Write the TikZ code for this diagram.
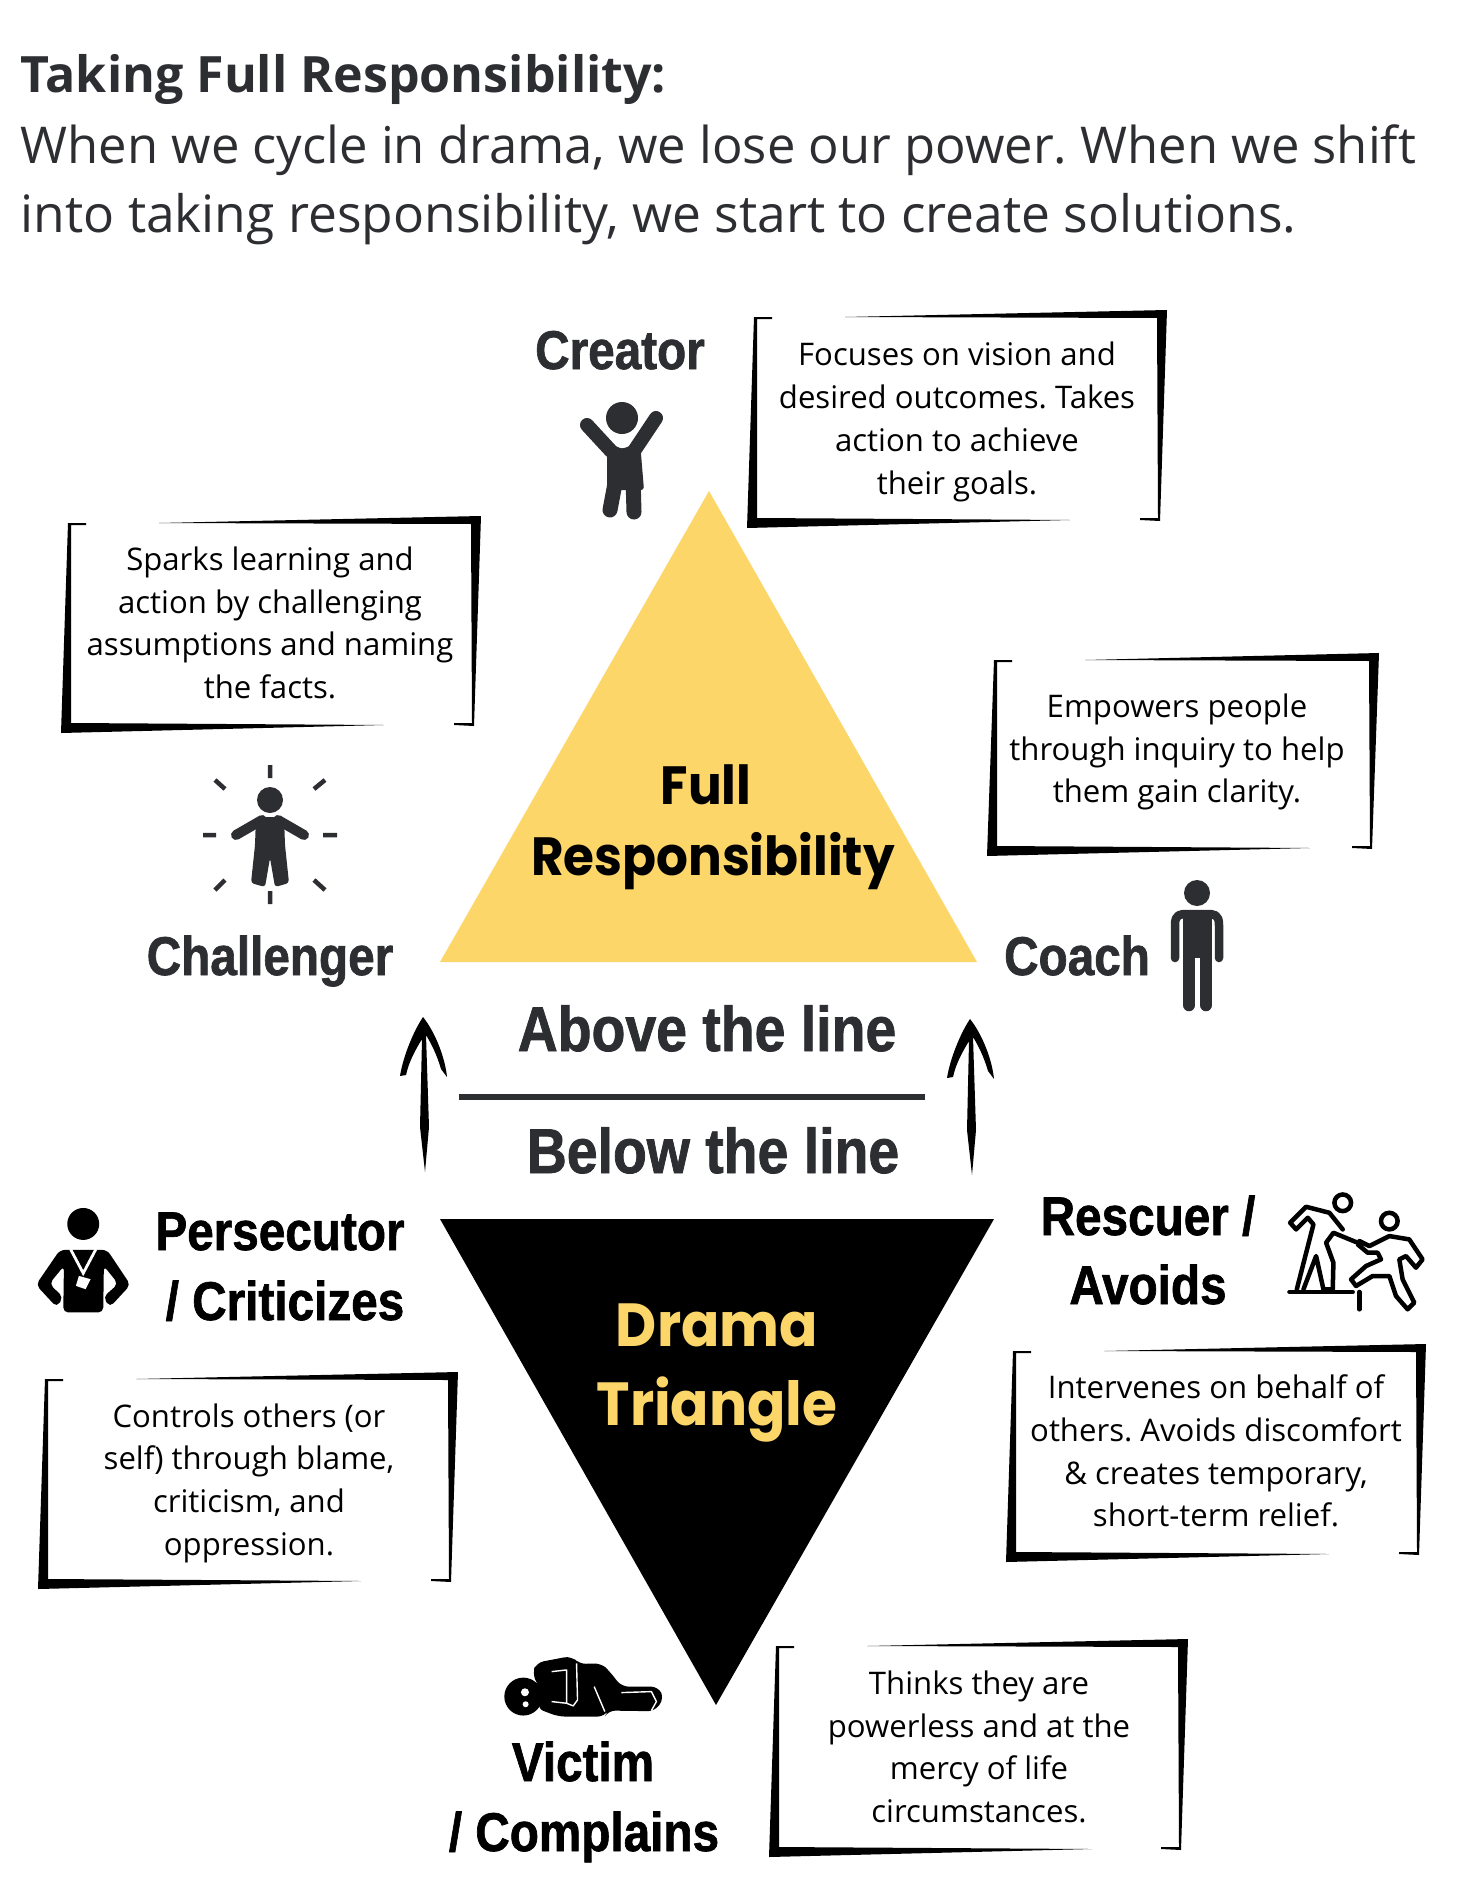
\documentclass[tikz,border=0pt]{standalone}
\usepackage{fontspec}
\setmainfont{Open Sans}
\newfontfamily\labelfont[BoldFeatures={FakeStretch=0.875,FakeBold=1.2}]{Liberation Sans}
\newfontfamily\titlefont[BoldFeatures={FakeStretch=0.93}]{Poppins}
\usetikzlibrary{calc}
\frenchspacing

\definecolor{inkgray}{HTML}{2D2E32}
\definecolor{sunyellow}{HTML}{FDD66A}

\tikzset{
  headline/.style={anchor=base west, text=inkgray, inner sep=0pt, font=\fontsize{14.65}{16}\selectfont},
  rolelabel/.style={anchor=base, inner sep=0pt, font=\labelfont\bfseries\fontsize{15.5}{17}\selectfont},
  linelabel/.style={anchor=base, inner sep=0pt, text=inkgray, font=\labelfont\bfseries\fontsize{18}{20}\selectfont},
  trianglelabel/.style={anchor=base, inner sep=0pt, font=\titlefont\bfseries\fontsize{15.3}{17}\selectfont},
  yellowlabel/.style={anchor=base, inner sep=0pt, text=sunyellow, font=\titlefont\bfseries\fontsize{17.3}{19}\selectfont},
  boxtext/.style={align=center, inner sep=0pt, font=\fontsize{8.85}{12.15}\selectfont},
  limb/.style={draw=inkgray, line cap=round, line join=round},
}

% hand-drawn frame: left, top, right, bottom outer edges
\newcommand{\handbox}[4]{
  \fill ({#1+7},{#2+7}) -- ({#1+25},{#2+7}) -- ({#1+25},{#2+9}) -- ({#1+10},{#2+9})
    -- ({#1+10},{#4-10}) -- ({#1+323},{#4-8}) -- (#1,#4) -- cycle;
  \fill ({#1+98},{#2+7}) -- (#3,#2) -- ({#3-7},{#4-7}) -- ({#3-27},{#4-8}) -- ({#3-27},{#4-10})
    -- ({#3-9},{#4-10}) -- ({#3-10},{#2+8}) -- cycle;
}
% brush arrow: x, tip y, bottom y
\newcommand{\brusharrow}[3]{
  \fill (#1,#2) .. controls ({#1+12},{#2+15}) and ({#1+22},{#2+40}) .. ({#1+24},{#2+60})
    -- ({#1+18},{#2+52}) .. controls ({#1+14},{#2+38}) and ({#1+8},{#2+26}) .. ({#1+3},{#2+18})
    -- ({#1+6},{#3-45}) -- ({#1+2},#3) -- ({#1-3},{#3-45}) -- ({#1-1},{#2+22})
    .. controls ({#1-7},{#2+32}) and ({#1-14},{#2+44}) .. ({#1-17},{#2+58})
    -- ({#1-23},{#2+59}) .. controls ({#1-20},{#2+40}) and ({#1-10},{#2+15}) .. cycle;
}

\begin{document}
\begin{tikzpicture}[x=0.01cm, y=-0.01cm]
  \useasboundingbox (0,0) rectangle (1456,1885);
  \fill[white] (0,0) rectangle (1456,1885);

  % Heading
  \node[headline, font=\bfseries\fontsize{14.25}{16}\selectfont] (heading) at (20,93) {Taking Full Responsibility:};
  \node[headline, font=\fontsize{14.43}{16}\selectfont] (intro1) at (20,163) {When we cycle in drama, we lose our power. When we shift};
  \node[headline] (intro2) at (20,232) {into taking responsibility, we start to create solutions.};

  % Triangles
  \fill[sunyellow] (709,491) -- (977,962) -- (440,962) -- cycle;
  \fill[black] (440,1219) -- (994,1219) -- (716,1705) -- cycle;
  \node[trianglelabel] (full) at (706,804) {Full};
  \node[trianglelabel] (responsibility) at (713,875) {Responsibility};
  \node[yellowlabel] (drama) at (717,1346) {Drama};
  \node[yellowlabel] (triangle) at (717,1425) {Triangle};

  % Divider
  \fill[inkgray] (459,1094) rectangle (925,1100);
  \node[linelabel] (above) at (707,1051) {Above the line};
  \node[linelabel] (below) at (713,1173) {Below the line};
  \brusharrow{423}{1017}{1172}
  \brusharrow{970}{1019}{1175}

  % Frames
  \handbox{747}{310}{1167}{528}
  \handbox{61}{516}{481}{733}
  \handbox{987}{653}{1379}{856}
  \handbox{38}{1372}{458}{1589}
  \handbox{1006}{1344}{1426}{1562}
  \handbox{769}{1639}{1188}{1857}

  % Frame texts
  \node[boxtext] (creatortext) at (957,422) {Focuses on vision and\\desired outcomes. Takes\\action to achieve\\their goals.};
  \node[boxtext] (challengertext) at (270,623) {Sparks learning and\\action by challenging\\assumptions and naming\\the facts.};
  \node[boxtext] (coachtext) at (1177,752) {Empowers people\\through inquiry to help\\them gain clarity.};
  \node[boxtext] (persecutortext) at (249,1483) {Controls others (or\\self) through blame,\\criticism, and\\oppression.};
  \node[boxtext] (rescuertext) at (1216,1451) {Intervenes on behalf of\\others. Avoids discomfort\\\& creates temporary,\\short-term relief.};
  \node[boxtext] (victimtext) at (979,1747) {Thinks they are\\powerless and at the\\mercy of life\\circumstances.};

  % Role labels
  \node[rolelabel, text=inkgray] (creator) at (620,369) {Creator};
  \node[rolelabel, text=inkgray] (challenger) at (270,975) {Challenger};
  \node[rolelabel, text=inkgray] (coach) at (1077,975) {Coach};
  \node[rolelabel] (persecutor) at (280,1250) {Persecutor};
  \node[rolelabel] (criticizes) at (285,1320) {/ Criticizes};
  \node[rolelabel] (rescuer) at (1148,1235) {Rescuer /};
  \node[rolelabel] (avoids) at (1148,1304) {Avoids};
  \node[rolelabel] (victim) at (583,1781) {Victim};
  \node[rolelabel] (complains) at (584,1851) {/ Complains};

  % Creator icon
  \fill[inkgray] (622,418) circle (16);
  \draw[limb, line width=0.14cm] (611,451) -- (587,425) (634,451) -- (656,418);
  \fill[inkgray, rounded corners=0.03cm] (607,442) -- (622,449) -- (640,442) -- (644,490) -- (607,490) -- cycle;
  \draw[limb, line width=0.15cm] (616,478) -- (610,510) (633,478) -- (634,512);

  % Challenger icon
  \fill[inkgray] (270,800) circle (13);
  \draw[limb, line width=0.1cm] (262,820) -- (236,835) (278,820) -- (304,835);
  \fill[inkgray, rounded corners=0.03cm] (256,817) -- (284,817) -- (285,845) -- (289,883) -- (275,887) -- (270,858) -- (265,887) -- (251,883) -- (255,845) -- cycle;
  \draw[limb, line width=0.045cm, line cap=butt] (270,765) -- (270,778) (270,891) -- (270,904) (203,835) -- (216,835) (323,835) -- (337,835)
    (215,780) -- (225,789) (314,789) -- (325,780) (215,890) -- (225,880) (314,880) -- (325,890);

  % Coach icon
  \fill[inkgray] (1197,893) circle (13);
  \draw[limb, line width=0.085cm] (1175,958) -- (1175,925) .. controls (1175,914) and (1180,914) .. (1188,914) -- (1206,914) .. controls (1214,914) and (1219,914) .. (1219,925) -- (1219,958);
  \fill[inkgray] (1183,912) rectangle (1212,958);
  \draw[limb, line width=0.125cm] (1189,950) -- (1189,1005) (1206,950) -- (1206,1005);

  % Persecutor icon
  \begin{scope}[shift={(20,1190)}, x=0.00333cm, y=-0.00333cm]
    \fill (190,102) circle (48);
    \fill[rounded corners=0.05cm] (120,180) -- (262,180) -- (332,285) -- (270,352) -- (250,322) -- (295,282) -- (252,228) -- (250,368) -- (130,368) -- (132,228) -- (88,282) -- (130,322) -- (110,352) -- (48,285) -- cycle;
    \draw[white, line width=0.028cm] (152,178) -- (190,250) -- (228,178);
    \fill[white] (177,258) -- (212,268) -- (197,298) -- (168,288) -- cycle;
  \end{scope}

  % Rescuer icon
  \begin{scope}[shift={(960,860)}, x=0.00333cm, y=-0.00333cm]
    \draw[line width=0.045cm] (1150,1030) circle (25) (1290,1085) circle (25);
    \draw[line width=0.045cm, line join=round, line cap=round]
      (1150,1110) -- (1110,1060) -- (1040,1042) -- (992,1090) -- (1010,1110) -- (1045,1075) -- (1062,1095) -- (1012,1290)
      (1032,1290) -- (1070,1190) -- (1092,1290) -- (1120,1290) -- (1122,1210) -- (1100,1150) -- (1122,1120) -- (1190,1148);
    \draw[line width=0.045cm, line join=round, line cap=round]
      (1200,1145) -- (1230,1160) -- (1290,1130) -- (1350,1140) -- (1390,1200) -- (1370,1225) -- (1340,1190) -- (1320,1200) -- (1330,1260) -- (1365,1330) -- (1345,1350) -- (1310,1310) -- (1290,1250) -- (1240,1250) -- (1190,1280) -- (1175,1260) -- (1220,1220) -- (1265,1200) -- (1255,1180) -- (1225,1180) -- (1195,1155) -- cycle;
    \draw[line width=0.045cm, line cap=round] (990,1298) -- (1180,1298) (1200,1298) -- (1200,1350);
  \end{scope}

  % Victim icon
  \begin{scope}[shift={(495,1640)}, x=0.00333cm, y=-0.00333cm]
    \fill (85,170) circle (57);
    \fill[white] (90,157) circle (12) (92,193) circle (9);
    \fill[rounded corners=0.07cm] (112,100) -- (125,68) -- (230,48) -- (252,72) -- (320,70) -- (345,95) -- (380,140) -- (490,140) -- (508,175) -- (480,214) -- (340,212) -- (330,230) -- (190,230) -- (125,205) -- (145,170) -- cycle;
    \draw[white, line width=0.014cm, line join=round] (170,95) -- (215,90) -- (215,190) -- (170,185)
      (245,70) -- (248,180) -- (235,198) -- (215,190) (298,140) -- (330,215)
      (380,158) -- (470,155) -- (485,185) -- (470,212);
  \end{scope}
\end{tikzpicture}
\end{document}
